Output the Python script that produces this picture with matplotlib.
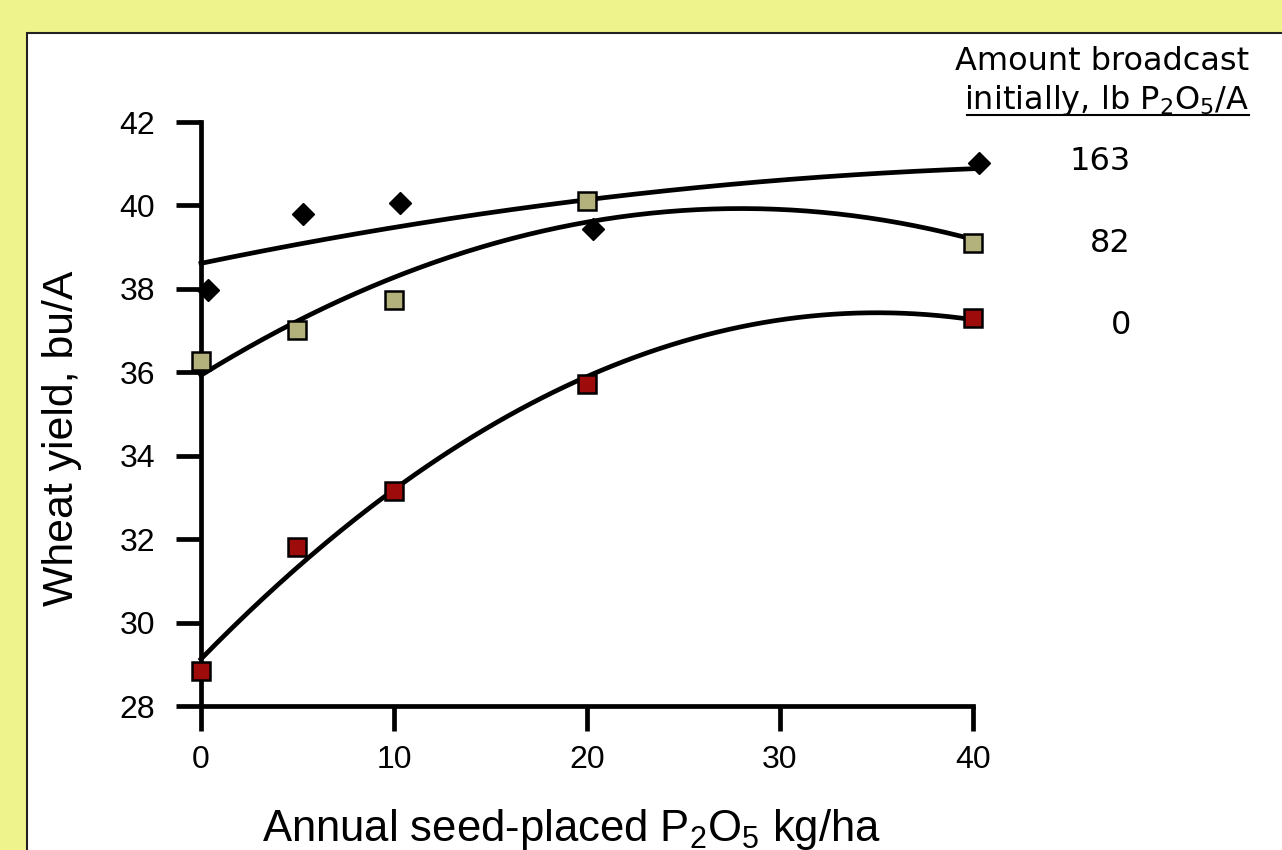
import numpy as np
import matplotlib
matplotlib.use('Agg')
import matplotlib.pyplot as plt
from matplotlib.patches import Rectangle
from matplotlib.lines import Line2D

plt.rcParams['mathtext.default'] = 'regular'

# datos
x_163 = [0.35, 5.3, 10.3, 20.3, 40.3]
y_163 = [37.97, 39.8, 40.05, 39.43, 41.02]
x_82 = [0, 5, 10, 20, 40]
y_82 = [36.27, 37.02, 37.73, 40.1, 39.1]
x_0 = [0, 5, 10, 20, 40]
y_0 = [28.83, 31.8, 33.15, 35.72, 37.3]
etiquetas = ['163', '82', '0']

fondo = '#EFF38B'
W, H = 1282, 850
fig = plt.figure(figsize=(W / 100, H / 100), dpi=100, facecolor=fondo)

# panel blanco con borde
panel = Rectangle((27 / W, -0.05), 1.1, 1 - 33 / H + 0.05, transform=fig.transFigure,
                  facecolor='white', edgecolor='#222222', linewidth=1.5, zorder=-10)
fig.patches.append(panel)

ax = fig.add_axes([201 / W, 1 - 706 / H, (973 - 201) / W, (706 - 122) / H])
ax.set_facecolor('none')

# lineas de tendencia (polinomio grado 2)
xs = np.linspace(0, 40, 200)
for xd, yd in [(x_163, y_163), (x_82, y_82), (x_0, y_0)]:
    coef = np.polyfit(xd, yd, 2)
    ax.plot(xs, np.polyval(coef, xs), color='black', lw=3.4, zorder=2, clip_on=False)

ax.plot(x_163, y_163, 'D', color='black', ms=11, zorder=3, clip_on=False)
ax.plot(x_82, y_82, 's', mfc='#B4B27C', mec='black', mew=1.8, ms=12.5, zorder=3, clip_on=False)
ax.plot(x_0, y_0, 's', mfc='#9E0B0B', mec='black', mew=1.8, ms=12.5, zorder=3, clip_on=False)

ax.set_xlim(0, 40)
ax.set_ylim(28, 42)
ax.set_xticks([0, 10, 20, 30, 40])
ax.set_yticks(range(28, 43, 2))
for s in ['top', 'right']:
    ax.spines[s].set_visible(False)
for s in ['left', 'bottom']:
    ax.spines[s].set_linewidth(3.4)
ax.tick_params(direction='out', length=18, width=3.4, labelsize=23)
ax.tick_params(axis='x', pad=10)
ax.tick_params(axis='y', pad=15)
for lab in ax.get_xticklabels() + ax.get_yticklabels():
    lab.set_family('Liberation Sans')

fig.text(62 / W, 1 - 438 / H, 'Wheat yield, bu/A', rotation=90, ha='center', va='center',
         fontsize=30.8, family='Liberation Sans')
fig.text(571 / W, 1 - 830 / H, 'Annual seed-placed P$_2$O$_5$ kg/ha', ha='center', va='center',
         fontsize=31.4, family='Liberation Sans')

# leyenda de texto
fig.text(1249 / W, 1 - 62 / H, 'Amount broadcast', ha='right', va='center', fontsize=23,
         family='DejaVu Sans')
fig.text(1249 / W, 1 - 101 / H, 'initially, lb P$_2$O$_5$/A', ha='right', va='center',
         fontsize=23, family='DejaVu Sans')
fig.add_artist(Line2D([967 / W, 1249 / W], [1 - 115 / H, 1 - 115 / H], color='black', lw=1.5,
                      transform=fig.transFigure))
for etq, ypx in zip(etiquetas, [161, 244, 326]):
    fig.text(1131 / W, 1 - ypx / H, etq, ha='right', va='center', fontsize=23, family='DejaVu Sans')

plt.savefig('out.png', dpi=100, facecolor=fondo)
